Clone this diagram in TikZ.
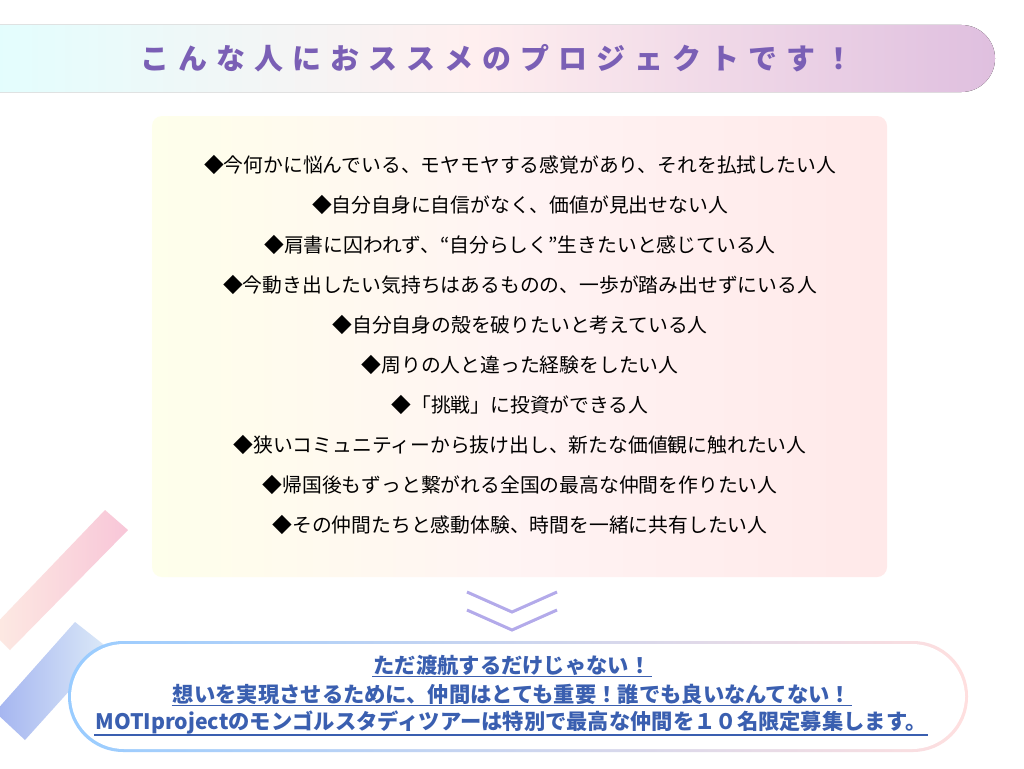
\documentclass[tikz,border=0pt]{standalone}
\usepackage{fontspec}
\usepackage{xcolor}
\setmainfont{Noto Sans CJK JP}
\usetikzlibrary{positioning,fadings}
\definecolor{titlepurple}{HTML}{7A5FB5}
\definecolor{bluetext}{HTML}{3A5FB0}
\definecolor{chevron}{HTML}{B3AAEA}
\definecolor{stripepinkA}{HTML}{F8C6D8}
\definecolor{stripepinkB}{HTML}{FDEBE3}
\definecolor{stripeblueA}{HTML}{A4B4F0}
\definecolor{stripeblueB}{HTML}{DCEAF8}
\begin{document}
\begin{tikzpicture}[x=1pt,y=-1pt,
  item/.style={font=\fontsize{19.8}{22}\selectfont, text=black, anchor=center},
  lead/.style={font=\fontsize{21.3}{24}\selectfont\bfseries, text=bluetext, anchor=center, inner sep=1pt}]
\useasboundingbox (0,0) rectangle (1024,768);
\fill[white] (0,0) rectangle (1024,768);

% decorative stripes
\shade[left color=stripepinkB, right color=stripepinkA]
  (105,510) -- (128,530) -- (10,650) -- (-10,630) -- cycle;
\shade[left color=stripeblueA, right color=stripeblueB]
  (75,622) -- (108,648) -- (25,740) -- (-5,712) -- cycle;

% title banner
\fill[left color=cyan!12, right color=violet!25, middle color=pink!25, rounded corners=33.5]
  (-50,25) rectangle (995,92);
\node[font=\fontsize{29}{32}\selectfont\bfseries, text=titlepurple] (title) at (497,58)
  {こ\hskip9pt ん\hskip9pt な\hskip9pt 人\hskip9pt に\hskip9pt お\hskip9pt ス\hskip9pt ス\hskip9pt メ\hskip9pt の\hskip9pt プ\hskip9pt ロ\hskip9pt ジ\hskip9pt ェ\hskip9pt ク\hskip9pt ト\hskip9pt で\hskip9pt す\hskip9pt ！};

% panel
\shade[rounded corners=10, left color=lime!12!yellow!8, right color=pink!35, middle color=pink!18]
  (152,116) rectangle (887,577);

\node[item] (l1) at (520,165) {◆今何かに悩んでいる、モヤモヤする感覚があり、それを払拭したい人};
\node[item] (l2) at (520,205) {◆自分自身に自信がなく、価値が見出せない人};
\node[item] (l3) at (520,245) {◆肩書に囚われず、“自分らしく”生きたいと感じている人};
\node[item] (l4) at (520,285) {◆今動き出したい気持ちはあるものの、一歩が踏み出せずにいる人};
\node[item] (l5) at (520,325) {◆自分自身の殻を破りたいと考えている人};
\node[item] (l6) at (520,365) {◆周りの人と違った経験をしたい人};
\node[item] (l7) at (520,405) {◆「挑戦」に投資ができる人};
\node[item] (l8) at (520,445) {◆狭いコミュニティーから抜け出し、新たな価値観に触れたい人};
\node[item] (l9) at (520,485) {◆帰国後もずっと繋がれる全国の最高な仲間を作りたい人};
\node[item] (l10) at (520,525) {◆その仲間たちと感動体験、時間を一緒に共有したい人};

% chevrons
\draw[chevron, line width=3] (467,592) -- (512,612) -- (557,592);
\draw[chevron, line width=3] (467,610) -- (512,630) -- (557,610);

% bottom box
\shade[left color=cyan!50!blue!40, right color=pink!50, rounded corners=55]
  (68,641) rectangle (968,752);
\fill[white, rounded corners=53] (71,644) rectangle (965,749);

\node[lead] (b1) at (512,665) {ただ渡航するだけじゃない！};
\node[lead] (b2) at (512,694) {想いを実現させるために、仲間はとても重要！誰でも良いなんてない！};
\node[lead] (b3) at (511,722) {MOTIprojectのモンゴルスタディツアーは特別で最高な仲間を１０名限定募集します。};
\foreach \b in {b1,b2,b3}
  \draw[bluetext, line width=1.2] (\b.south west) -- (\b.south east);
\end{tikzpicture}
\end{document}
